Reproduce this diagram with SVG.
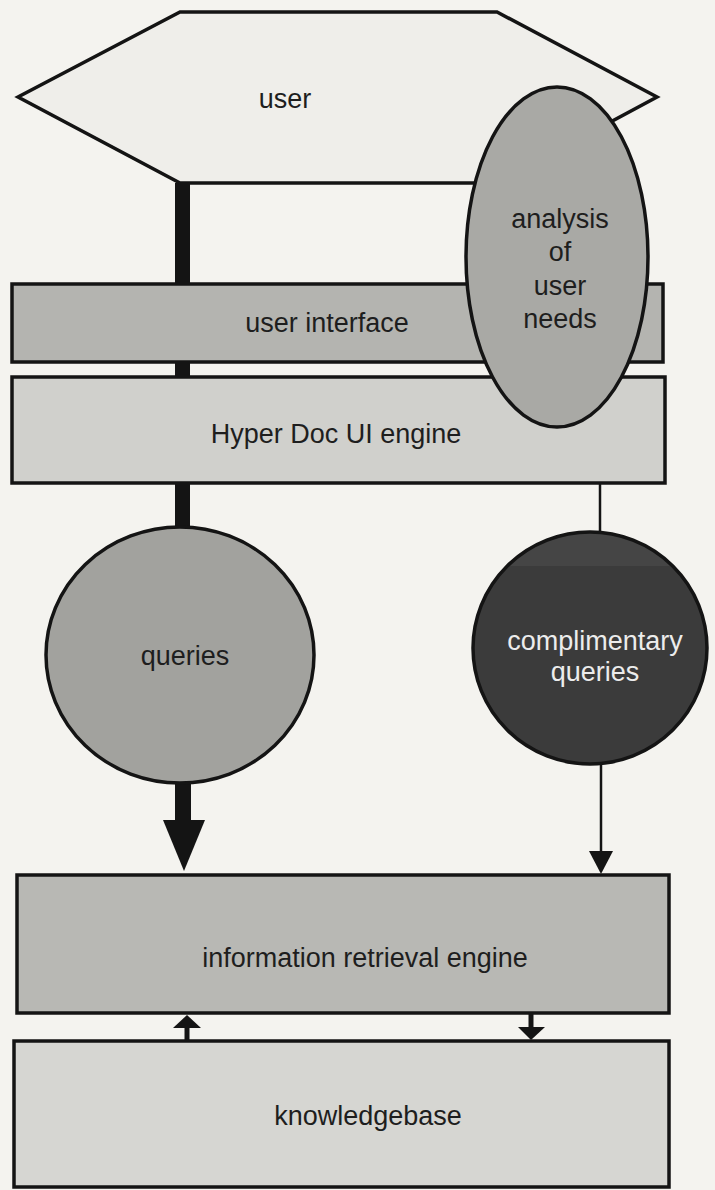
<svg xmlns="http://www.w3.org/2000/svg" width="715" height="1190" viewBox="0 0 715 1190">
<defs>
<style>
.lbl{font-family:"Liberation Sans",Arial,Helvetica,sans-serif;font-size:27px;fill:#1e1e1e;text-anchor:middle}
.wlbl{font-family:"Liberation Sans",Arial,Helvetica,sans-serif;font-size:27px;fill:#ececec;text-anchor:middle}
.box{stroke:#141414;stroke-width:3.5}
.thin{stroke:#141414;stroke-width:2.5;fill:none}
.head{fill:#141414}
</style>
<clipPath id="cq"><ellipse cx="590" cy="648" rx="117" ry="116"/></clipPath>
</defs>
<rect x="0" y="0" width="715" height="1190" fill="#f4f3ef"/>

<g id="connectors">
<rect x="175" y="183" width="15" height="102" class="head"/>
<rect x="175" y="360" width="15" height="18" class="head"/>
<rect x="175" y="481" width="15" height="47" class="head"/>
<rect x="175" y="780" width="16" height="42" class="head"/>
<polygon points="163,820 205,820 184,871" class="head"/>
<line x1="600" y1="483" x2="600" y2="533" class="thin"/>
<line x1="601" y1="764" x2="601" y2="855" class="thin"/>
<polygon points="589,851 613,851 601,874" class="head"/>
<line x1="187" y1="1026" x2="187" y2="1041" stroke="#141414" stroke-width="5"/>
<polygon points="173,1028 201,1028 187,1015" class="head"/>
<line x1="531" y1="1012" x2="531" y2="1028" stroke="#141414" stroke-width="5"/>
<polygon points="518,1027 545,1027 531,1040" class="head"/>
</g>

<g id="user">
<polygon points="180,12 497,12 657,97 497,183 180,183 18,97" fill="#efeeea" class="box"/>
<text x="285" y="108" class="lbl">user</text>
</g>

<g id="user-interface">
<rect x="12" y="284" width="651" height="78" fill="#b4b4b0" class="box"/>
<text x="327" y="332" class="lbl">user interface</text>
</g>

<g id="hyperdoc">
<rect x="12" y="377" width="653" height="106" fill="#d0d0cc" class="box"/>
<text x="336" y="443" class="lbl">Hyper Doc UI engine</text>
</g>

<g id="analysis">
<ellipse cx="557" cy="257" rx="91" ry="170" fill="#a9a9a5" class="box"/>
<text x="560" y="228" class="lbl">analysis</text>
<text x="560" y="261" class="lbl">of</text>
<text x="560" y="295" class="lbl">user</text>
<text x="560" y="328" class="lbl">needs</text>
</g>

<g id="queries">
<ellipse cx="180" cy="655" rx="134" ry="128" fill="#a2a29e" class="box"/>
<text x="185" y="665" class="lbl">queries</text>
</g>

<g id="complimentary">
<ellipse cx="590" cy="648" rx="117" ry="116" fill="#3b3b3b"/>
<rect x="470" y="530" width="240" height="36" fill="#454545" clip-path="url(#cq)"/>
<ellipse cx="590" cy="648" rx="117" ry="116" fill="none" class="box"/>
<text x="595" y="650" class="wlbl">complimentary</text>
<text x="595" y="681" class="wlbl">queries</text>
</g>

<g id="ir-engine">
<rect x="17" y="875" width="652" height="138" fill="#b8b8b4" class="box"/>
<text x="365" y="967" class="lbl">information retrieval engine</text>
</g>

<g id="knowledgebase">
<rect x="14" y="1041" width="655" height="146" fill="#d6d6d2" class="box"/>
<text x="368" y="1125" class="lbl">knowledgebase</text>
</g>
</svg>
